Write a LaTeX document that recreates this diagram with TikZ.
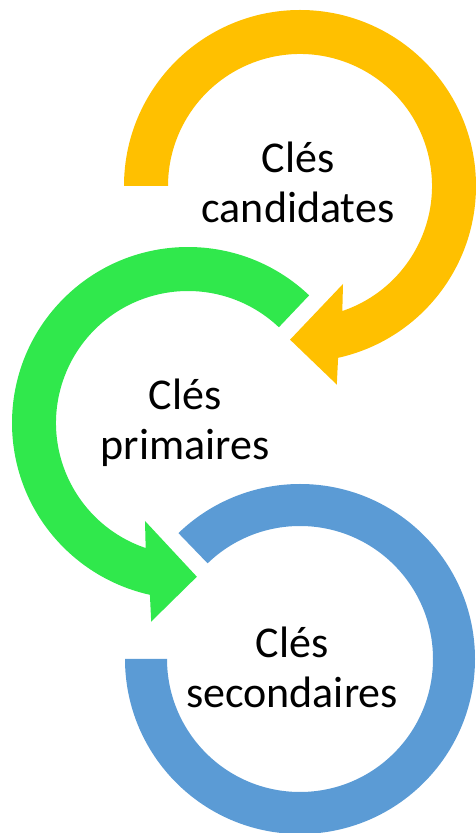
\documentclass[tikz,border=0pt]{standalone}
\usepackage{fontspec}
\setmainfont{Carlito}
\definecolor{orangec}{RGB}{255,192,0}
\definecolor{greenc}{RGB}{48,232,76}
\definecolor{bluec}{RGB}{91,155,213}
\begin{document}
\begin{tikzpicture}[x=1pt,y=1pt,
  lbl/.style={anchor=base,align=center,inner sep=0pt,font=\fontsize{44}{50.5}\selectfont,text=black}]
\useasboundingbox (0,0) rectangle (476,833);
\coordinate (oc) at (300,647);
\coordinate (gc) at (188,410);
\coordinate (bc) at (300,174);
% orange arrow (clockwise)
\fill[orangec] ([shift={(oc)}]180:176) arc[start angle=180,end angle=-77.5,radius=176]
  -- ([shift={(oc)}]-79.5:202) -- ([shift={(oc)}]-93.7:154) -- ([shift={(oc)}]-66.3:107)
  -- ([shift={(oc)}]-71.3:132) arc[start angle=-71.3,end angle=180,radius=132] -- cycle;
% green arrow (counter-clockwise)
\fill[greenc] ([shift={(gc)}]46.5:176) arc[start angle=46.5,end angle=257.5,radius=176]
  -- ([shift={(gc)}]259.5:202) -- ([shift={(gc)}]273.3:154) -- ([shift={(gc)}]246.3:107)
  -- ([shift={(gc)}]251.3:132) arc[start angle=251.3,end angle=46.5,radius=132] -- cycle;
% blue ring
\fill[bluec] ([shift={(bc)}]180:175) arc[start angle=180,end angle=494,radius=175]
  -- ([shift={(bc)}]494:133) arc[start angle=494,end angle=180,radius=133] -- cycle;
% labels (base = baseline of last line)
\node[lbl] (tcand) at (298,610) {Clés\\candidates};
\node[lbl] (tprim) at (185,373) {Clés\\primaires};
\node[lbl] (tsec) at (292,125) {Clés\\secondaires};
\end{tikzpicture}
\end{document}
